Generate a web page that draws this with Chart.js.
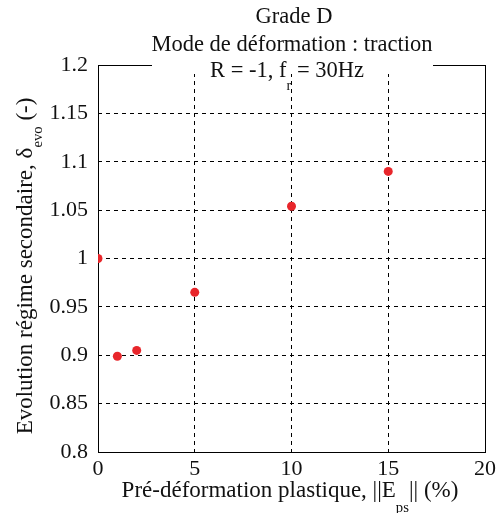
<!DOCTYPE html>
<html lang="fr">
  <head>
    <meta charset="UTF-8" />
    <title>Grade D - traction</title>
    <style>
      body { margin: 0; background: #fff; }
      #wrap { width: 500px; height: 513px; position: relative; }
    </style>
    <script src="https://cdn.jsdelivr.net/npm/chart.js"></script>
  </head>
  <body>
    <div id="wrap"><canvas id="chart"></canvas></div>
    <script>
      // data
      const preDeformation = [0, 1, 2, 5, 10, 15];
      const deltaEvo = [1.0, 0.899, 0.905, 0.965, 1.054, 1.09];
      const xTicks = [0, 5, 10, 15, 20];
      const yTicks = [0.8, 0.85, 0.9, 0.95, 1, 1.05, 1.1, 1.15, 1.2];

      const FONT = "'Liberation Serif', 'DejaVu Serif', serif";

      // draw text pieces with subscripts, centered on (cx, cy)
      function drawRich(ctx, parts, cx, cy, size, drop) {
        let total = 0;
        parts.forEach(p => {
          ctx.font = (p.sub ? size * 0.64 : size) + "px " + FONT;
          p.w = ctx.measureText(p.t).width;
          total += p.w;
        });
        let x = cx - total / 2;
        ctx.textBaseline = "middle";
        ctx.textAlign = "left";
        parts.forEach(p => {
          ctx.font = (p.sub ? size * 0.64 : size) + "px " + FONT;
          ctx.fillText(p.t, x, cy + (p.sub ? drop || 0 : 0));
          x += p.w;
        });
      }

      const decor = {
        id: "decor",
        beforeDatasetsDraw(chart) {
          const { ctx, chartArea: a } = chart;
          ctx.save();
          ctx.strokeStyle = "#000";
          ctx.lineWidth = 1;
          ctx.setLineDash([]);
          ctx.strokeRect(a.left + 0.5, a.top + 0.5, a.right - a.left, a.bottom - a.top);
          ctx.restore();
        },
        afterDraw(chart) {
          const { ctx } = chart;
          ctx.save();
          ctx.fillStyle = "#fff";
          ctx.fillRect(152, 58, 281, 16);
          ctx.fillStyle = "#111";
          drawRich(ctx, [{ t: "Grade D" }], 294, 17, 22.5);
          drawRich(ctx, [{ t: "Mode de déformation : traction" }], 292, 45, 22.5);
          drawRich(ctx, [{ t: "R = -1, f" }, { t: "r", sub: true }, { t: " = 30Hz" }], 287, 71, 22.5, 15);
          drawRich(ctx, [
            { t: "Pré-déformation plastique, ||E" },
            { t: "ps", sub: true },
            { t: "|| (%)" }
          ], 290, 491, 23, 17);
          ctx.translate(26, 266);
          ctx.rotate(-Math.PI / 2);
          drawRich(ctx, [
            { t: "Evolution régime secondaire, δ" },
            { t: "evo", sub: true },
            { t: " (-)" }
          ], 0, 0, 23, 12);
          ctx.restore();
        }
      };

      new Chart(document.getElementById("chart"), {
        type: "scatter",
        data: {
          datasets: [
            {
              data: preDeformation.map((x, i) => ({ x: x, y: deltaEvo[i] })),
              backgroundColor: "#e8262b",
              borderColor: "#e8262b",
              pointRadius: 4.5,
              pointBorderWidth: 0
            }
          ]
        },
        options: {
          responsive: true,
          maintainAspectRatio: false,
          animation: false,
          layout: { padding: { left: 0, right: 13, top: 65, bottom: 0 } },
          plugins: { legend: { display: false }, tooltip: { enabled: false } },
          scales: {
            x: {
              type: "linear",
              min: 0,
              max: 20,
              afterBuildTicks: s => { s.ticks = xTicks.map(v => ({ value: v })); },
              afterFit: s => { s.height = 61; },
              grid: { color: "#000", lineWidth: 1, drawTicks: false },
              border: { display: false, dash: [4, 4] },
              ticks: {
                color: "#111",
                padding: 4,
                font: { family: FONT, size: 22 }
              }
            },
            y: {
              type: "linear",
              min: 0.8,
              max: 1.2,
              afterBuildTicks: s => { s.ticks = yTicks.map(v => ({ value: v })); },
              afterFit: s => { s.width = 98; },
              grid: { color: "#000", lineWidth: 1, drawTicks: false },
              border: { display: false, dash: [4, 4] },
              ticks: {
                color: "#111",
                padding: 10,
                font: { family: FONT, size: 22 },
                callback: v => String(Math.round(v * 100) / 100)
              }
            }
          }
        },
        plugins: [decor]
      });
    </script>
  </body>
</html>
